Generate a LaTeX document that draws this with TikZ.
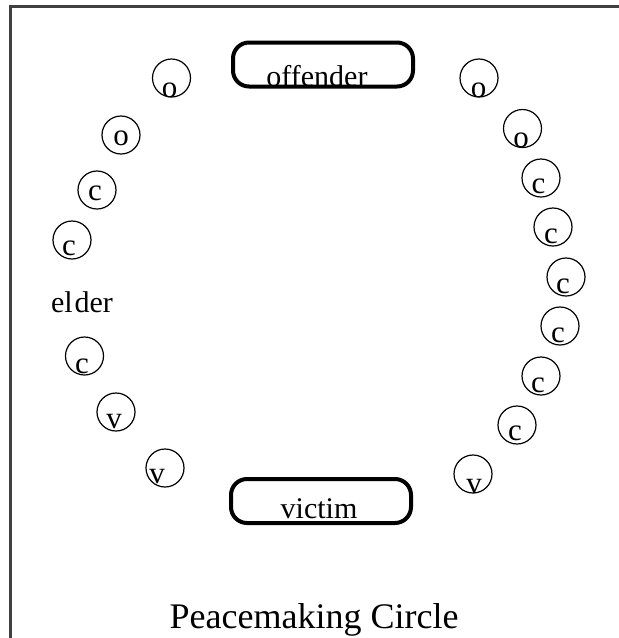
\documentclass[tikz,border=0pt]{standalone}
\usepackage{fontspec}
\setmainfont{Liberation Serif}
\begin{document}
\begin{tikzpicture}[x=1pt,y=-1pt,
  seat/.style={circle,draw=black,line width=1.2pt,minimum size=38pt,inner sep=0pt},
  lett/.style={anchor=base,inner sep=0pt,font=\fontsize{31}{33}\selectfont},
  party/.style={draw=black,line width=4pt,rounded corners=16pt,minimum width=180pt,minimum height=44pt,inner sep=0pt},
  ptext/.style={anchor=base,inner sep=0pt,font=\fontsize{30}{32}\selectfont},
  frameline/.style={line width=3pt,black!75}]
\useasboundingbox (0,0) rectangle (619,638);
% frame
\coordinate (fb) at (10,640);
\coordinate (fc) at (10,6);
\coordinate (fr) at (621,6);
\draw[frameline] (fb) -- (fc) -- (fr);
% parties
\node[party] (off) at (323,64.5) {};
\node[ptext] (offt) at (317,86) {offender};
\node[party] (vic) at (321,501) {};
\node[ptext] (vict) at (319,518) {victim};
% left seats
\node[seat] (l1) at (171.5,78) {};  \node[lett] (l1t) at (169.5,97) {o};
\node[seat] (l2) at (121,135) {};   \node[lett] (l2t) at (121,145) {o};
\node[seat] (l3) at (97,190) {};    \node[lett] (l3t) at (95,200) {c};
\node[seat] (l4) at (72,240) {};    \node[lett] (l4t) at (69,255) {c};
\node[ptext] (elder) at (82,312) {el\kern2pt der};
\node[seat] (l5) at (84.5,356) {};  \node[lett] (l5t) at (82,373) {c};
\node[seat] (l6) at (116,412) {};   \node[lett] (l6t) at (114,428) {v};
\node[seat] (l7) at (165,468) {};   \node[lett] (l7t) at (157,483) {v};
% right seats
\node[seat] (r1) at (479,78) {};    \node[lett] (r1t) at (478.5,97) {o};
\node[seat] (r2) at (522.5,128.5) {}; \node[lett] (r2t) at (521,147) {o};
\node[seat] (r3) at (541,178) {};   \node[lett] (r3t) at (538.5,193) {c};
\node[seat] (r4) at (553,227) {};   \node[lett] (r4t) at (551,243) {c};
\node[seat] (r5) at (566,277) {};   \node[lett] (r5t) at (563,293) {c};
\node[seat] (r6) at (560,326) {};   \node[lett] (r6t) at (558,342) {c};
\node[seat] (r7) at (541,376) {};   \node[lett] (r7t) at (538,392) {c};
\node[seat] (r8) at (517,425) {};   \node[lett] (r8t) at (515,440) {c};
\node[seat] (r9) at (473,474) {};   \node[lett] (r9t) at (474,493) {v};
% title
\node[anchor=base,inner sep=0pt,font=\fontsize{36}{38}\selectfont] (title) at (314,628) {Peacemaking Circle};
\end{tikzpicture}
\end{document}
